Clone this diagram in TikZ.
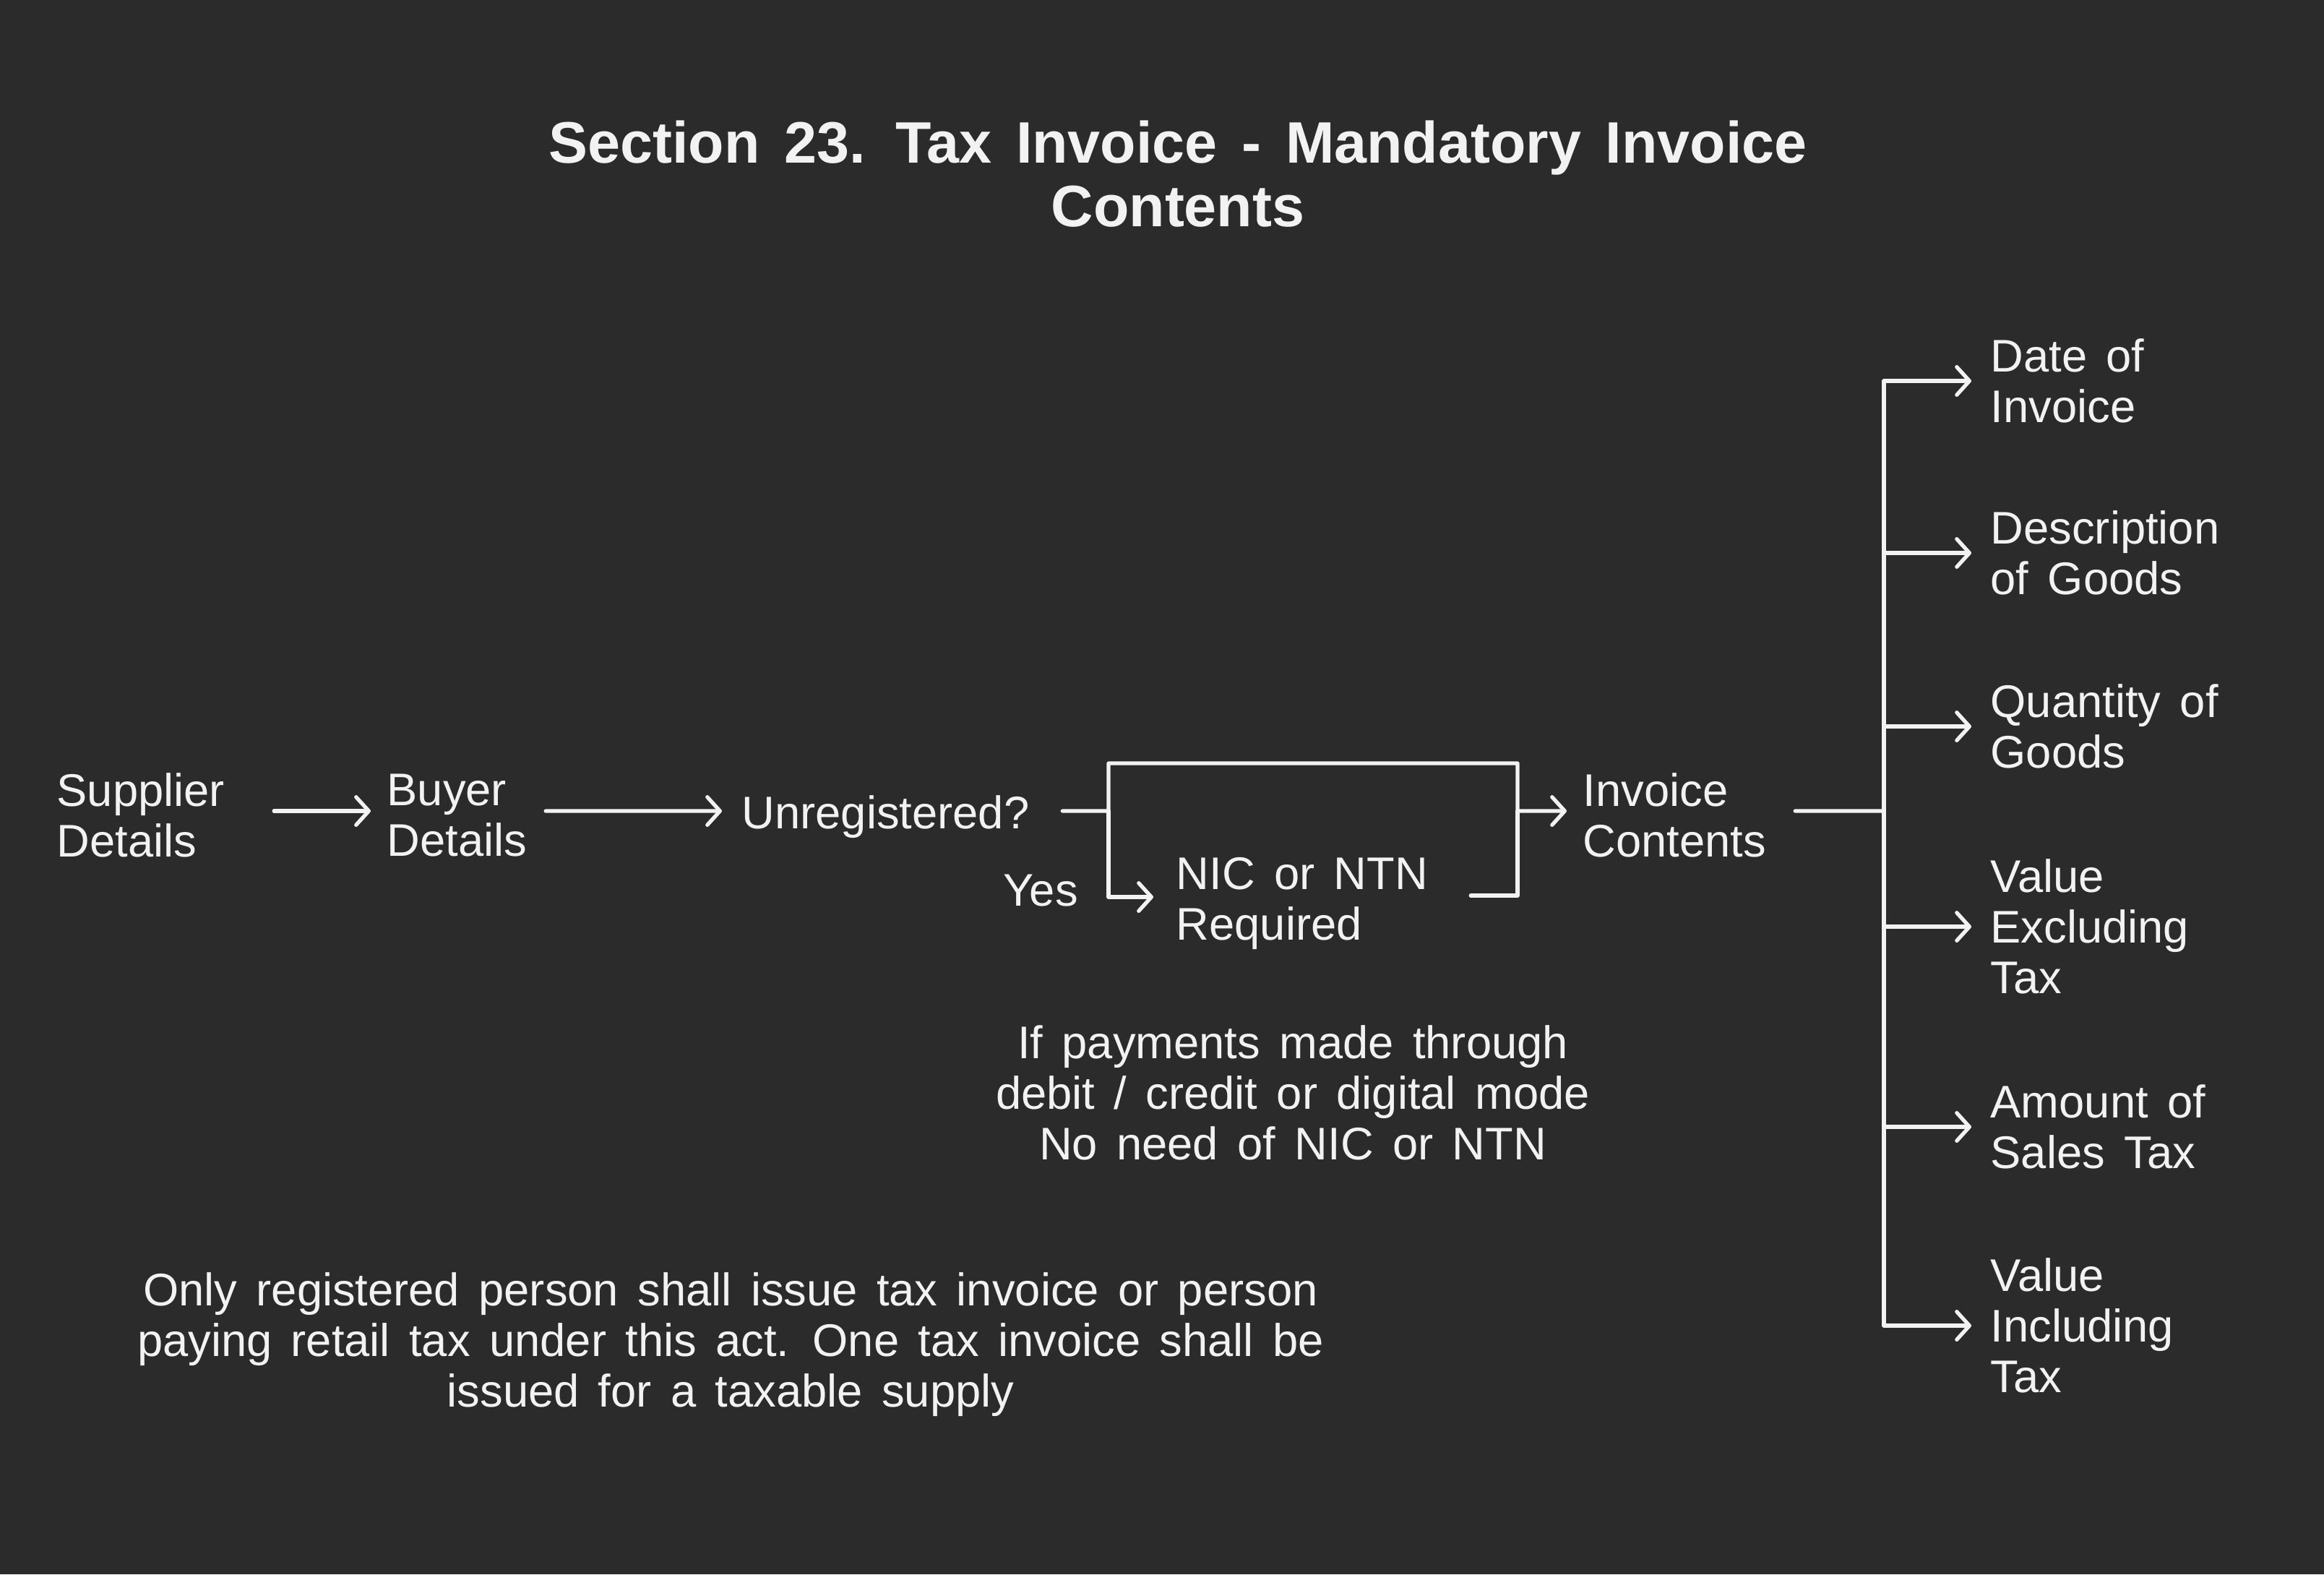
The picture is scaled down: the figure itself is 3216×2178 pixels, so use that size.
\documentclass[tikz,border=0pt]{standalone}
\usepackage{fontspec}
\setmainfont[WordSpace=1.5]{Liberation Sans}
\usetikzlibrary{arrows.meta}
\definecolor{bg}{HTML}{2B2B2B}
\definecolor{ink}{HTML}{F2F2F2}
\tikzset{
  lbl/.style={text=ink, inner sep=0pt, align=left, anchor=west, font=\fontsize{18}{20}\selectfont},
  ctr/.style={text=ink, inner sep=0pt, align=center, font=\fontsize{18}{20}\selectfont},
  ln/.style={draw=ink, line width=1.5pt, line cap=round, line join=round},
  arr/.style={ln, -{Straight Barb[length=5pt,width=11pt,line width=1.5pt,round]}}
}
\begin{document}
\begin{tikzpicture}[x=0.01cm, y=-0.01cm]
\fill[bg] (0,0) rectangle (3216,2178);
\useasboundingbox (0,0) rectangle (3216,2178);

\node[ctr, font=\bfseries\fontsize{23}{25}\selectfont] (title) at (1630,241) {Section 23. Tax Invoice - Mandatory Invoice\\Contents};

\node[lbl] (sup) at (78,1128) {Supplier\\Details};
\node[lbl] (buy) at (535,1128) {Buyer\\Details};
\node[lbl] (unreg) at (1026,1130) {Unregistered?};
\node[lbl] (nic) at (1627,1250) {NIC or NTN\\Required};
\node[ctr] (yes) at (1440,1232) {Yes};
\node[lbl] (inv) at (2190,1128) {Invoice\\Contents};

\node[lbl] (d1) at (2754,527) {Date of\\Invoice};
\node[lbl] (d2) at (2754,765) {Description\\of Goods};
\node[lbl] (d3) at (2754,1005) {Quantity of\\Goods};
\node[lbl] (d4) at (2754,1282) {Value\\Excluding\\Tax};
\node[lbl] (d5) at (2754,1559) {Amount of\\Sales Tax};
\node[lbl] (d6) at (2754,1834) {Value\\Including\\Tax};

\node[ctr] (note1) at (1789,1512) {If payments made through\\debit / credit or digital mode\\No need of NIC or NTN};
\node[ctr] (note2) at (1011,1860) {Only registered person shall issue tax invoice or person\\paying retail tax under this act. One tax invoice shall be\\issued for a taxable supply};

\coordinate (j) at (1534,1122);
\coordinate (tl) at (1534,1056);
\coordinate (tr) at (2100,1056);
\coordinate (jr) at (2100,1122);
\coordinate (trunk) at (2607,1122);

\draw[arr] ([xshift=3.01cm,yshift=0.06cm]sup.west) -- ([xshift=-0.22cm,yshift=0.06cm]buy.west);
\draw[arr] ([xshift=2.20cm,yshift=0.06cm]buy.west) -- ([xshift=-0.27cm,yshift=0.08cm]unreg.west);
\draw[ln] ([xshift=4.44cm,yshift=0.08cm]unreg.west) -- (j);
\draw[arr] (j) -- (tl) -- (tr) -- (jr) -- ([xshift=-0.22cm,yshift=0.06cm]inv.west);
\draw[arr] (j) |- ([xshift=-0.31cm,yshift=0.09cm]nic.west);
\draw[ln] ([xshift=4.08cm,yshift=0.11cm]nic.west) -| (jr);
\draw[ln] ([xshift=2.94cm,yshift=0.06cm]inv.west) -- (trunk);
\draw[ln] (d1.west -| trunk) -- (d6.west -| trunk);
\foreach \d in {d1,d2,d3,d4,d5,d6}{
  \draw[arr] (\d.west -| trunk) -- ([xshift=-0.26cm]\d.west);
}
\end{tikzpicture}
\end{document}
